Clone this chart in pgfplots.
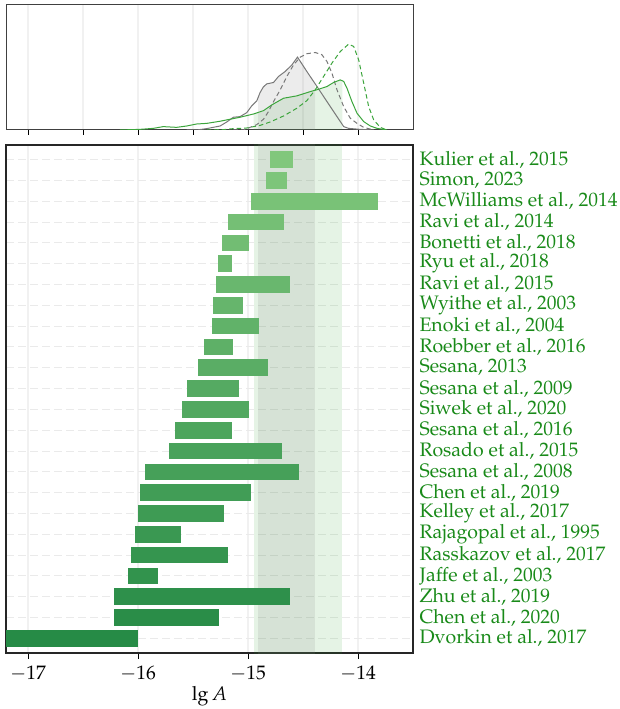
\documentclass[border=0pt]{standalone}
\usepackage[T1]{fontenc}
\usepackage{mathpazo}
\usepackage{pgfplots}
\usepackage{pgfplotstable}
\pgfplotsset{compat=1.18}
\usepgfplotslibrary{fillbetween}

\definecolor{lg}{RGB}{129,199,124}
\definecolor{dg}{RGB}{38,139,70}
\definecolor{labgreen}{RGB}{25,138,25}
\definecolor{cgreen}{RGB}{60,165,60}
\definecolor{cgray}{RGB}{120,120,120}
\definecolor{bandg}{RGB}{44,160,44}
\definecolor{gridc}{RGB}{241,241,241}
\definecolor{gridh}{RGB}{234,234,234}

% top panel curves (x = lg A, y = relative density)
\pgfplotstableread{
x y
-15.558 0
-15.467 0
-15.375 0.011
-15.254 0.032
-15.193 0.064
-15.133 0.102
-15.072 0.107
-15.011 0.139
-14.966 0.193
-14.920 0.233
-14.890 0.300
-14.860 0.345
-14.829 0.369
-14.768 0.380
-14.723 0.428
-14.662 0.468
-14.601 0.521
-14.550 0.583
-14.465 0.468
-14.373 0.348
-14.282 0.227
-14.191 0.107
-14.130 0.027
-14.085 0.013
-13.979 0.005
-13.857 0
}\graysolid

\pgfplotstableread{
x y
-15.133 0
-15.041 0
-14.981 0.021
-14.920 0.043
-14.859 0.086
-14.814 0.147
-14.768 0.227
-14.707 0.321
-14.647 0.428
-14.586 0.521
-14.525 0.583
-14.465 0.610
-14.389 0.620
-14.328 0.602
-14.282 0.548
-14.237 0.455
-14.191 0.321
-14.130 0.187
-14.070 0.094
-14.009 0.053
-13.948 0.021
-13.857 0
}\graydashed

\pgfplotstableread{
x y
-16.165 0
-15.983 0.005
-15.861 0.013
-15.770 0.027
-15.649 0.021
-15.558 0.032
-15.467 0.048
-15.375 0.053
-15.254 0.070
-15.163 0.086
-15.072 0.102
-14.950 0.128
-14.859 0.155
-14.783 0.201
-14.677 0.254
-14.556 0.273
-14.434 0.307
-14.358 0.326
-14.282 0.348
-14.222 0.380
-14.161 0.401
-14.130 0.388
-14.100 0.334
-14.055 0.227
-14.009 0.134
-13.948 0.067
-13.888 0.032
-13.827 0.013
-13.736 0
}\greensolid

\pgfplotstableread{
x y
-15.375 0
-15.224 0.003
-15.133 0.011
-15.011 0.016
-14.890 0.037
-14.799 0.064
-14.677 0.112
-14.556 0.174
-14.465 0.235
-14.389 0.321
-14.313 0.428
-14.237 0.535
-14.161 0.628
-14.085 0.687
-14.039 0.668
-13.994 0.561
-13.948 0.374
-13.903 0.187
-13.857 0.080
-13.797 0.021
-13.736 0
}\greendashed

% horizontal bar: lo, hi, y0, y1, darkness
\newcommand\hb[5]{\addplot[draw=none,fill=dg!#5!lg] coordinates {(#1,#3) (#2,#3) (#2,#4) (#1,#4)};}

\pgfplotsset{every axis/.append style={font=\fontsize{19.5}{23}\selectfont}}

\begin{document}
\begin{tikzpicture}
\begin{axis}[
  name=main,
  scale only axis, width=407pt, height=508pt,
  xmin=-17.2, xmax=-13.5, ymin=-0.7, ymax=23.7,
  y dir=reverse,
  axis line style={draw=black!85, line width=1.2pt},
  xtick={-17,-16,-15,-14},
  xtick pos=bottom, tick align=outside,
  major tick length=6pt,
  x tick style={black, line width=1pt},
  xticklabel style={yshift=-3pt},
  ytick={0,...,23},
  y tick style={draw=none},
  yticklabel pos=right,
  yticklabel style={text=labgreen, xshift=-3pt},
  yticklabels={{Kulier et al., 2015},{Simon, 2023},{McWilliams et al., 2014},{Ravi et al., 2014},{Bonetti et al., 2018},{Ryu et al., 2018},{Ravi et al., 2015},{Wyithe et al., 2003},{Enoki et al., 2004},{Roebber et al., 2016},{Sesana, 2013},{Sesana et al., 2009},{Siwek et al., 2020},{Sesana et al., 2016},{Rosado et al., 2015},{Sesana et al., 2008},{Chen et al., 2019},{Kelley et al., 2017},{Rajagopal et al., 1995},{Rasskazov et al., 2017},{Jaffe et al., 2003},{Zhu et al., 2019},{Chen et al., 2020},{Dvorkin et al., 2017}},
  xmajorgrids, ymajorgrids,
  x grid style={gridc, line width=1.2pt},
  y grid style={gridh, line width=1pt, dash pattern=on 8pt off 4pt},
  xlabel={$\lg A$},
  xlabel style={yshift=1pt},
]
\addplot[draw=none, fill=bandg, fill opacity=0.12] coordinates {(-14.95,-1) (-14.143,-1) (-14.143,25) (-14.95,25)};
\addplot[draw=none, fill=gray, fill opacity=0.15] coordinates {(-14.908,-1) (-14.389,-1) (-14.389,25) (-14.908,25)};
\hb{-14.80}{-14.59}{-0.4}{0.4}{0}
\hb{-14.835}{-14.645}{0.6}{1.4}{4}
\hb{-14.97}{-13.815}{1.6}{2.4}{9}
\hb{-15.18}{-14.67}{2.6}{3.4}{13}
\hb{-15.235}{-14.99}{3.6}{4.4}{17}
\hb{-15.27}{-15.145}{4.6}{5.4}{22}
\hb{-15.29}{-14.615}{5.6}{6.4}{26}
\hb{-15.32}{-15.045}{6.6}{7.4}{30}
\hb{-15.325}{-14.90}{7.6}{8.4}{35}
\hb{-15.40}{-15.135}{8.6}{9.4}{39}
\hb{-15.455}{-14.815}{9.6}{10.4}{43}
\hb{-15.555}{-15.08}{10.6}{11.4}{48}
\hb{-15.60}{-14.99}{11.6}{12.4}{52}
\hb{-15.665}{-15.145}{12.6}{13.4}{57}
\hb{-15.72}{-14.69}{13.6}{14.4}{61}
\hb{-15.935}{-14.535}{14.6}{15.4}{65}
\hb{-15.985}{-14.97}{15.6}{16.4}{70}
\hb{-16.00}{-15.22}{16.6}{17.4}{74}
\hb{-16.03}{-15.61}{17.6}{18.4}{78}
\hb{-16.065}{-15.18}{18.6}{19.4}{83}
\hb{-16.09}{-15.82}{19.6}{20.4}{87}
\hb{-16.22}{-14.615}{20.6}{21.4}{91}
\hb{-16.22}{-15.265}{21.6}{22.4}{96}
\hb{-17.5}{-16.00}{22.6}{23.4}{100}
\end{axis}

\begin{axis}[
  at={(main.north west)}, anchor=south west, yshift=15pt,
  set layers,
  scale only axis, width=407pt, height=125pt,
  xmin=-17.2, xmax=-13.5, ymin=0, ymax=1,
  axis line style={draw=black!75, line width=1pt},
  xtick={-17,-16.5,...,-14}, xticklabels={},
  xtick pos=bottom, tick align=outside,
  major tick length=5pt,
  x tick style={black, line width=0.9pt},
  ytick=\empty,
  xmajorgrids,
  x grid style={gridc, line width=1.2pt},
]
\addplot[draw=none, name path=base] coordinates {(-17.2,0) (-13.5,0)};
\addplot[cgray, line width=1pt, name path=gs] table {\graysolid};
\addplot[cgray, line width=1pt, dash pattern=on 4.5pt off 3pt] table {\graydashed};
\addplot[cgreen, line width=1pt, name path=grs] table {\greensolid};
\addplot[cgreen, line width=1pt, dash pattern=on 4.5pt off 3pt] table {\greendashed};
\addplot[bandg, fill opacity=0.12] fill between[of=grs and base, soft clip={domain=-14.95:-14.143}];
\addplot[gray, fill opacity=0.15] fill between[of=gs and base, soft clip={domain=-14.908:-14.389}];
\end{axis}
\pgfresetboundingbox
\useasboundingbox (main.south west) ++(-6pt,-56pt) rectangle ++(619pt,709pt);
\end{tikzpicture}
\end{document}
